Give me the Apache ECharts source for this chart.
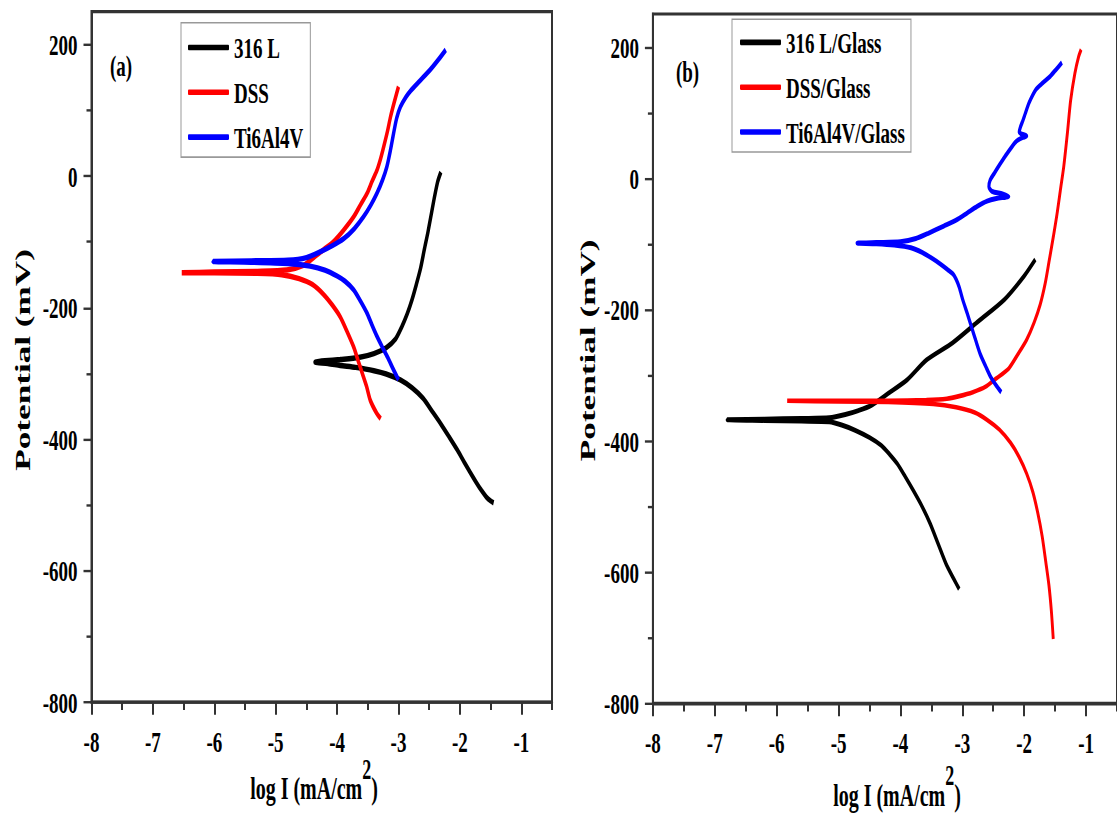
<!DOCTYPE html>
<html><head><meta charset="utf-8">
<script src="https://cdn.jsdelivr.net/npm/echarts@6/dist/echarts.min.js"></script>
<style>
html,body{margin:0;padding:0;background:#fff;overflow:hidden}
#wrap{width:1117px;height:819px;overflow:hidden}
#chart{width:1117px;height:512px;transform:scaleY(1.599609);transform-origin:0 0}
</style>
</head><body><div id="wrap"><div id="chart"></div></div>
<script>
// ---- tick values ----
const xTicks = [-8, -7, -6, -5, -4, -3, -2, -1];
const xMinorTicks = [-7.5, -6.5, -5.5, -4.5, -3.5, -2.5, -1.5, -0.5];
const yTicks = [-800, -600, -400, -200, 0, 200];
const yMinorTicks = [-700, -500, -300, -100, 100];

// ---- series names ----
const namesA = ['316 L', 'DSS', 'Ti6Al4V'];
const namesB = ['316 L/Glass', 'DSS/Glass', 'Ti6Al4V/Glass'];

// ---- panel (a) data: [log I, E (mV)] ----
const a316L = [[-1.45,-497],[-1.50,-494],[-1.57,-488],[-1.65,-478],[-1.74,-465],[-1.83,-451],[-1.93,-435],[-2.04,-417],[-2.18,-396],[-2.31,-377],[-2.45,-358],[-2.60,-338],[-2.78,-322],[-2.97,-310],[-3.20,-301],[-3.40,-296],[-3.70,-291],[-3.95,-288],[-4.15,-285],[-4.36,-283],
  [-4.20,-281],[-3.95,-279],[-3.65,-276],[-3.40,-270],[-3.20,-261],[-3.05,-248],[-2.95,-230],[-2.86,-210],[-2.78,-188],[-2.71,-165],[-2.64,-140],[-2.58,-112],[-2.52,-85],[-2.46,-55],[-2.41,-30],[-2.36,-8],[-2.31,6]];
const aDSS = [[-3.29,-369],[-3.36,-360],[-3.46,-341],[-3.52,-320],[-3.59,-300],[-3.66,-280],[-3.73,-260],[-3.84,-236],[-3.95,-214],[-4.08,-196],[-4.22,-180],[-4.40,-165],[-4.62,-156],[-4.90,-150],[-5.30,-148],[-6.00,-147],[-6.53,-147],
  [-6.00,-146],[-5.30,-145],[-4.82,-143],[-4.55,-136],[-4.38,-124],[-4.22,-112],[-4.06,-100],[-3.90,-83],[-3.73,-62],[-3.62,-44],[-3.51,-26],[-3.43,-8],[-3.35,9],[-3.29,27],[-3.24,45],[-3.18,68],[-3.13,90],[-3.07,112],[-3.00,136]];
const aTi = [[-3.00,-310],[-3.09,-293],[-3.18,-275],[-3.27,-259],[-3.35,-244],[-3.43,-227],[-3.51,-209],[-3.62,-190],[-3.73,-173],[-3.87,-160],[-4.00,-152],[-4.20,-143],[-4.44,-137],[-4.80,-133],[-5.40,-131],[-6.02,-130],
  [-5.40,-129],[-4.80,-128],[-4.50,-124],[-4.27,-115],[-4.08,-106],[-3.89,-95],[-3.72,-80],[-3.57,-62],[-3.45,-44],[-3.35,-26],[-3.26,-6],[-3.19,14],[-3.13,40],[-3.08,65],[-3.03,88],[-2.97,105],[-2.88,120],[-2.80,130],[-2.65,145],[-2.48,162],[-2.35,177],[-2.23,192]];

// ---- panel (b) data ----
const b316L = [[-3.05,-626],[-3.14,-610],[-3.26,-588],[-3.39,-557],[-3.52,-526],[-3.65,-500],[-3.79,-476],[-3.92,-455],[-4.05,-435],[-4.18,-420],[-4.31,-407],[-4.50,-395],[-4.73,-384],[-4.95,-376],[-5.15,-371],[-5.60,-370],[-6.20,-369],[-6.80,-368],
  [-6.20,-367],[-5.60,-366],[-5.15,-365],[-4.89,-360],[-4.68,-354],[-4.47,-346],[-4.20,-328],[-3.89,-307],[-3.58,-277],[-3.16,-251],[-2.74,-218],[-2.32,-185],[-2.00,-149],[-1.82,-124]];
const bDSS = [[-1.53,-702],[-1.56,-660],[-1.60,-620],[-1.65,-585],[-1.71,-545],[-1.78,-510],[-1.86,-478],[-1.96,-450],[-2.08,-425],[-2.22,-403],[-2.40,-383],[-2.60,-368],[-2.80,-357],[-3.10,-349],[-3.47,-344],[-4.20,-341],[-5.00,-340],[-5.83,-339],
  [-5.00,-339],[-4.20,-339],[-3.58,-338],[-3.25,-336],[-3.05,-332],[-2.83,-326],[-2.63,-318],[-2.45,-305],[-2.25,-290],[-2.10,-268],[-1.96,-246],[-1.84,-220],[-1.74,-192],[-1.66,-160],[-1.60,-128],[-1.53,-90],[-1.47,-55],[-1.41,-15],[-1.36,18],[-1.30,70],[-1.25,118],[-1.18,160],[-1.12,185],[-1.08,196]];
const bTi = [[-2.37,-326],[-2.45,-316],[-2.54,-303],[-2.62,-287],[-2.71,-268],[-2.78,-248],[-2.85,-227],[-2.92,-206],[-2.99,-186],[-3.05,-166],[-3.10,-154],[-3.15,-146],[-3.24,-139],[-3.35,-131],[-3.49,-122],[-3.65,-113],[-3.83,-106],[-4.10,-102],[-4.39,-100],[-4.70,-99],
  [-4.39,-98],[-4.00,-97],[-3.75,-92],[-3.55,-84],[-3.30,-73],[-3.10,-64],[-2.92,-53],[-2.76,-43],[-2.60,-35],[-2.45,-31],[-2.30,-29],[-2.25,-28],[-2.35,-24],[-2.52,-20],[-2.57,-13],[-2.55,-3],[-2.48,8],[-2.40,20],[-2.31,33],[-2.22,45],[-2.15,54],[-2.10,58],[-2.02,62],[-1.96,64],[-2.08,70],[-2.06,78],[-2.02,88],[-1.98,99],[-1.92,115],[-1.81,135],[-1.70,145],[-1.58,155],[-1.48,166],[-1.39,176]];

const colors = ['#000000', '#ff0000', '#0000ff'];
const FONT = 'Liberation Serif';
const AX = '#333';

function xMain(grid) {
  return { type: 'value', gridIndex: grid, position: 'bottom', min: -8, max: -0.5,
    axisLine: { onZero: false, lineStyle: { color: AX, width: 2 } },
    axisTick: { show: true, customValues: xTicks, length: 8, lineStyle: { color: AX, width: 2 } },
    axisLabel: { customValues: xTicks, color: '#000', fontFamily: FONT, fontWeight: 'bold', fontSize: 19, margin: 15 },
    splitLine: { show: false } };
}
function xMinor(grid) {
  return { type: 'value', gridIndex: grid, position: 'bottom', min: -8, max: -0.5,
    axisLine: { show: false, onZero: false },
    axisTick: { show: true, customValues: xMinorTicks, length: 5, lineStyle: { color: AX, width: 2 } },
    axisLabel: { show: false }, splitLine: { show: false } };
}
function yMain(grid) {
  return { type: 'value', gridIndex: grid, position: 'left', min: -800, max: 250,
    axisLine: { show: true, onZero: false, lineStyle: { color: AX, width: 2 } },
    axisTick: { show: true, customValues: yTicks, length: 8, lineStyle: { color: AX, width: 1.5 } },
    axisLabel: { customValues: yTicks, color: '#000', fontFamily: FONT, fontWeight: 'bold', fontSize: 19, margin: 14 },
    splitLine: { show: false } };
}
function yMinor(grid) {
  return { type: 'value', gridIndex: grid, position: 'left', min: -800, max: 250,
    axisLine: { show: false, onZero: false },
    axisTick: { show: true, customValues: yMinorTicks, length: 5, lineStyle: { color: AX, width: 1.5 } },
    axisLabel: { show: false }, splitLine: { show: false } };
}
function line(name, data, ax, color, w) {
  return { name, type: 'line', data, xAxisIndex: ax, yAxisIndex: ax, showSymbol: false, symbol: 'none',
    smooth: 0.25, lineStyle: { color, width: w }, itemStyle: { color }, z: 3 };
}
function legend(names, left, top, pad) {
  return { data: names, orient: 'vertical', left, top, padding: pad, itemGap: 9, itemWidth: 41, itemHeight: 3.5,
    icon: 'roundRect', borderColor: '#999', borderWidth: 1, backgroundColor: '#fff',
    textStyle: { color: '#000', fontFamily: FONT, fontWeight: 'bold', fontSize: 19, lineHeight: 19 } };
}
function xTitle(cx, cy) {
  return { type: 'text', x: cx, y: cy, z: 10,
    style: { text: '{m|log I (mA/cm}{s|2}{m|)}', align: 'center', verticalAlign: 'middle',
      rich: { m: { fontFamily: FONT, fontWeight: 'bold', fontSize: 20, lineHeight: 42, fill: '#000' },
              s: { fontFamily: FONT, fontWeight: 'bold', fontSize: 18, lineHeight: 18, verticalAlign: 'top', fill: '#000' } } } };
}
function yTitle(cx, cy) {
  return { type: 'text', x: cx, y: cy, rotation: Math.PI / 2, z: 10,
    style: { text: 'Potential (mV)', fontFamily: FONT, fontWeight: 'bold', fontSize: 22, fill: '#000', align: 'center', verticalAlign: 'middle' } };
}
function tag(txt, cx, cy) {
  return { type: 'text', x: cx, y: cy, z: 10,
    style: { text: txt, fontFamily: FONT, fontWeight: 'bold', fontSize: 19, fill: '#000', align: 'center', verticalAlign: 'middle' } };
}

const chart = echarts.init(document.getElementById('chart'), null, { renderer: 'svg' });
chart.setOption({
  animation: false,
  backgroundColor: '#fff',
  grid: [
    { left: 91.5, top: 7.3, width: 460.5, height: 431.6, show: true, borderColor: AX, borderWidth: 2, backgroundColor: 'transparent' },
    { left: 652.9, top: 8.75, width: 476, height: 431, show: true, borderColor: AX, borderWidth: 2, backgroundColor: 'transparent' }
  ],
  xAxis: [xMain(0), xMinor(0), xMain(1), xMinor(1)],
  yAxis: [yMain(0), yMinor(0), yMain(1), yMinor(1)],
  legend: [legend(namesA, 181, 14.2, [6, 7, 3, 7]), legend(namesB, 732, 12, [5, 6, 3, 8])],
  series: [
    line(namesA[0], a316L, 0, colors[0], 3.4),
    line(namesA[1], aDSS, 0, colors[1], 3.4),
    line(namesA[2], aTi, 0, colors[2], 3.4),
    line(namesB[0], b316L, 2, colors[0], 3.1),
    line(namesB[1], bDSS, 2, colors[1], 2.9),
    line(namesB[2], bTi, 2, colors[2], 3.1)
  ],
  graphic: [
    tag('(a)', 121, 41), tag('(b)', 687.5, 44.4),
    yTitle(23, 225), yTitle(588, 219),
    xTitle(314, 493), xTitle(897, 497)
  ]
});
</script>
</body></html>
